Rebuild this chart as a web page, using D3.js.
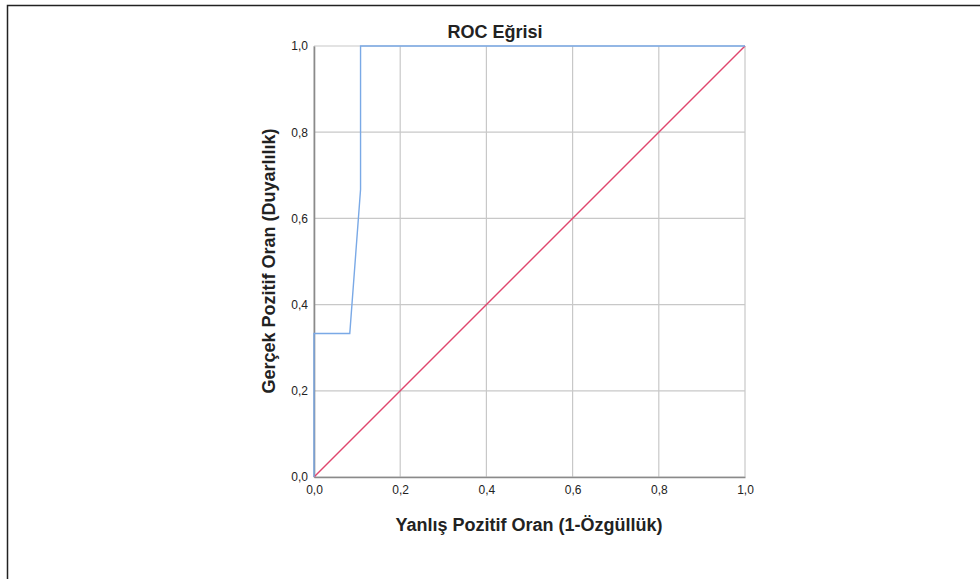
<!DOCTYPE html>
<html><head><meta charset="utf-8">
<script src="https://cdn.jsdelivr.net/npm/d3@7"></script>
<style>body{margin:0;background:#fff}svg{display:block;font-family:"Liberation Sans",Arial,sans-serif}</style>
</head><body><svg id="c" width="980" height="579"></svg>
<script>
const title = "ROC Eğrisi";
const xLabel = "Yanlış Pozitif Oran (1-Özgüllük)";
const yLabel = "Gerçek Pozitif Oran (Duyarlılık)";
const ticks = [0, 0.2, 0.4, 0.6, 0.8, 1.0];
const rocFPR = [0, 0, 0.083, 0.108, 0.108, 1.0];
const rocTPR = [0, 0.333, 0.333, 0.667, 1.0, 1.0];
const refFPR = [0, 1];
const refTPR = [0, 1];

const svg = d3.select("#c");
const L = 314, R = 745, T = 46, B = 477;
const x = d3.scaleLinear().domain([0, 1]).range([L, R]);
const y = d3.scaleLinear().domain([0, 1]).range([B, T]);
const fmt = d => d3.format(".1f")(d).replace(".", ",");

// outer frame
svg.append("path").attr("d", "M7.5,579 V5.5 H980").attr("fill", "none").attr("stroke", "#222").attr("stroke-width", 1.5);

// grid
const g = svg.append("g");
g.selectAll(".gx").data(ticks).join("line")
  .attr("x1", d => x(d)).attr("x2", d => x(d)).attr("y1", T).attr("y2", B)
  .attr("stroke", "#c8c8c8").attr("stroke-width", 1.2);
g.selectAll(".gy").data(ticks).join("line")
  .attr("y1", d => y(d)).attr("y2", d => y(d)).attr("x1", L).attr("x2", R)
  .attr("stroke", "#c8c8c8").attr("stroke-width", 1.2);

// axes
const xAxis = svg.append("g").attr("transform", `translate(0,${B})`)
  .call(d3.axisBottom(x).tickValues(ticks).tickFormat(fmt).tickSize(0).tickPadding(8).tickSizeOuter(0));
const yAxis = svg.append("g").attr("transform", `translate(${L},0)`)
  .call(d3.axisLeft(y).tickValues(ticks).tickFormat(fmt).tickSize(0).tickPadding(6).tickSizeOuter(0));
[xAxis, yAxis].forEach(a => {
  a.select(".domain").attr("stroke", "#8a8a8a").attr("stroke-width", 1.6);
  a.selectAll("text").attr("font-size", 12).attr("fill", "#222").attr("font-family", "'Liberation Sans',Arial,sans-serif");
});

// lines
const line = d3.line().x(d => x(d[0])).y(d => y(d[1]));
svg.append("path").datum(refFPR.map((v, i) => [v, refTPR[i]])).attr("d", line)
  .attr("fill", "none").attr("stroke", "#e0466e").attr("stroke-width", 1.4);
svg.append("path").datum(rocFPR.map((v, i) => [v, rocTPR[i]])).attr("d", line)
  .attr("fill", "none").attr("stroke", "#7aa9e6").attr("stroke-width", 1.4);

// texts
svg.append("text").attr("x", 495).attr("y", 38).attr("text-anchor", "middle")
  .attr("font-size", 18).attr("font-weight", "bold").attr("fill", "#222").text(title);
svg.append("text").attr("x", 529).attr("y", 531).attr("text-anchor", "middle")
  .attr("font-size", 18).attr("font-weight", "bold").attr("fill", "#222").text(xLabel);
svg.append("text").attr("transform", "translate(275,261) rotate(-90)").attr("text-anchor", "middle")
  .attr("font-size", 18).attr("font-weight", "bold").attr("fill", "#222").text(yLabel);
</script></body></html>
